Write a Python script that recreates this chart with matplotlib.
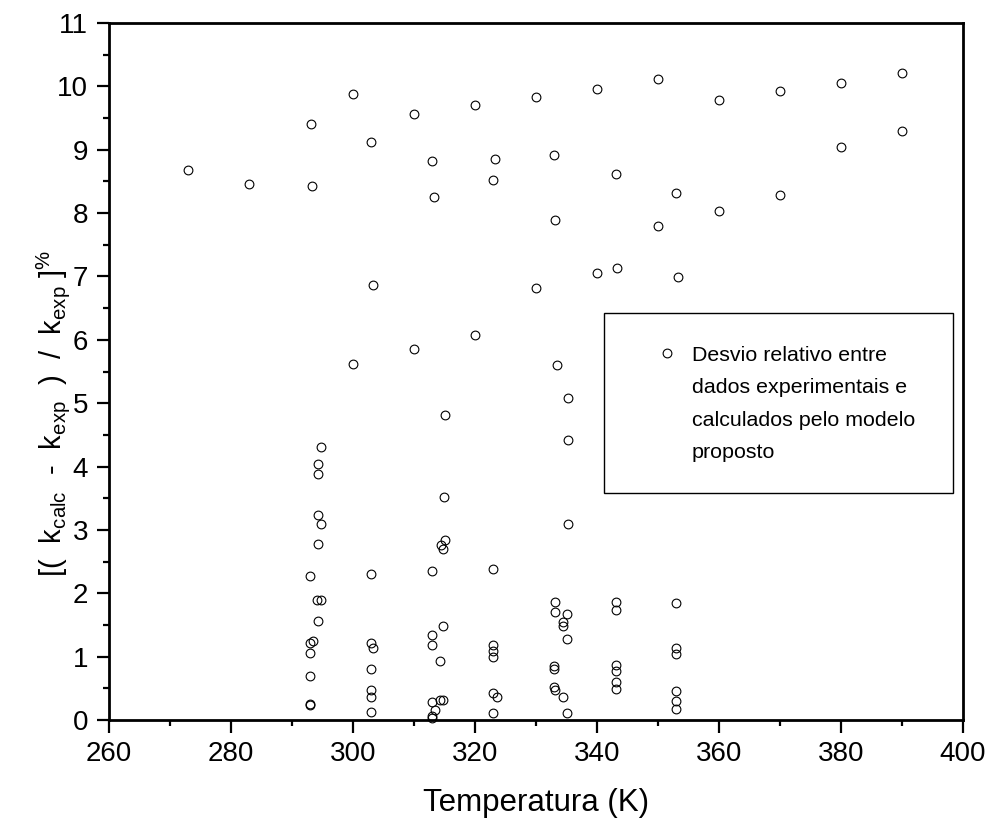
import matplotlib
matplotlib.use("Agg")
import matplotlib.pyplot as plt
from matplotlib.ticker import MultipleLocator
from matplotlib.patches import Rectangle
from matplotlib.offsetbox import HPacker

plt.rcParams['font.family'] = ['Liberation Sans', 'DejaVu Sans']
plt.rcParams['mathtext.fontset'] = 'custom'
plt.rcParams['mathtext.rm'] = 'Liberation Sans'

# desvio relativo (%) x temperatura (K)
temperatura = [273, 283, 293.1, 293.2, 300, 300, 303, 303.2, 310, 310,
               313, 313.2, 320, 320, 323.2, 323, 330, 330, 333, 333.1,
               333.4, 340, 340, 343.1, 343.2, 350, 350, 353, 353.2, 360,
               360, 370, 370, 380, 380, 390, 390,
               294.7, 294.2, 294.2, 294.2, 294.75, 294.2, 293.0, 294.1, 294.8, 294.2,
               293.5, 293.0, 293.0, 293.0, 293.0, 293.0,
               303, 303, 303.3, 303, 303, 303, 303,
               315, 314.9, 315.1, 314.4, 314.8, 313, 314.8, 313, 313, 314.3,
               314.3, 314.8, 313, 313.5, 313, 313,
               323, 323, 323, 323, 323, 323.6, 323,
               335.2, 335.2, 335.2, 333.1, 333.1, 335, 334.4, 334.4, 335, 332.9,
               332.9, 332.9, 333.1, 334.4, 335,
               343.1, 343.1, 343.1, 343.1, 343.1, 343.1,
               353, 353, 353, 353, 353, 353]
desvio = [8.68, 8.46, 9.41, 8.42, 9.88, 5.62, 9.12, 6.87, 9.56, 5.85,
          8.82, 8.25, 9.70, 6.08, 8.85, 8.52, 9.83, 6.82, 8.92, 7.89,
          5.61, 9.96, 7.06, 8.62, 7.13, 10.11, 7.80, 8.31, 6.99, 9.78,
          8.04, 9.92, 8.29, 10.06, 9.04, 10.21, 9.29,
          4.31, 4.04, 3.88, 3.24, 3.09, 2.78, 2.27, 1.90, 1.90, 1.57,
          1.25, 1.22, 1.06, 0.69, 0.25, 0.23,
          2.31, 1.21, 1.14, 0.81, 0.48, 0.37, 0.13,
          4.82, 3.52, 2.84, 2.76, 2.70, 2.35, 1.49, 1.34, 1.19, 0.93,
          0.31, 0.32, 0.28, 0.16, 0.07, 0.03,
          2.39, 1.18, 1.09, 0.99, 0.43, 0.37, 0.11,
          5.08, 4.42, 3.09, 1.86, 1.70, 1.68, 1.54, 1.48, 1.28, 0.85,
          0.81, 0.52, 0.48, 0.36, 0.11,
          1.86, 1.74, 0.87, 0.77, 0.60, 0.49,
          1.84, 1.14, 1.04, 0.46, 0.30, 0.17]

legenda = "Desvio relativo entre\ndados experimentais e\ncalculados pelo modelo\nproposto"

fig = plt.figure(figsize=(9.92, 8.24), dpi=100)
ax = fig.add_axes([0.1099, 0.1262, 0.8609, 0.8459])

ax.plot(temperatura, desvio, 'o', ls='none', ms=6.3, mew=0.8, mfc='none',
        mec='black', clip_on=False, zorder=3, label=legenda)

ax.set_xlim(260, 400)
ax.set_ylim(0, 11)
ax.xaxis.set_major_locator(MultipleLocator(20))
ax.xaxis.set_minor_locator(MultipleLocator(10))
ax.yaxis.set_major_locator(MultipleLocator(1))
ax.yaxis.set_minor_locator(MultipleLocator(0.5))

for s in ax.spines.values():
    s.set_linewidth(2.0)
    s.set_zorder(4)
ax.tick_params(which='major', direction='out', length=9, width=1.6,
               labelsize=20, pad=6)
ax.tick_params(which='minor', direction='out', length=4.3, width=1.6)
ax.tick_params(top=False, right=False)

ax.set_xlabel('Temperatura (K)', fontsize=22.5)
ax.xaxis.set_label_coords(0.5, -0.097)
ax.set_ylabel(r'[(  k$_{\mathregular{calc}}$  -  k$_{\mathregular{exp}}$  )  /  '
              r'k$_{\mathregular{exp}}$ ]$^{\mathregular{\%}}$', fontsize=21)
ax.yaxis.set_label_coords(-0.043, 0.44)

# legend box
ax.add_patch(Rectangle((0.5796, 0.3257), 0.4087, 0.2582, transform=ax.transAxes,
                       fill=False, lw=1.0, ec='black', zorder=5))
leg = ax.legend(loc='upper left', bbox_to_anchor=(0.647, 0.537), frameon=False,
                fontsize=15.4, handlelength=0.5, handletextpad=0.92,
                borderpad=0, borderaxespad=0)
for t in leg.get_texts():
    t.set_linespacing(1.9)
for box in leg.findobj(HPacker):
    box.align = 'top'

fig.savefig('out.png', dpi=100)
